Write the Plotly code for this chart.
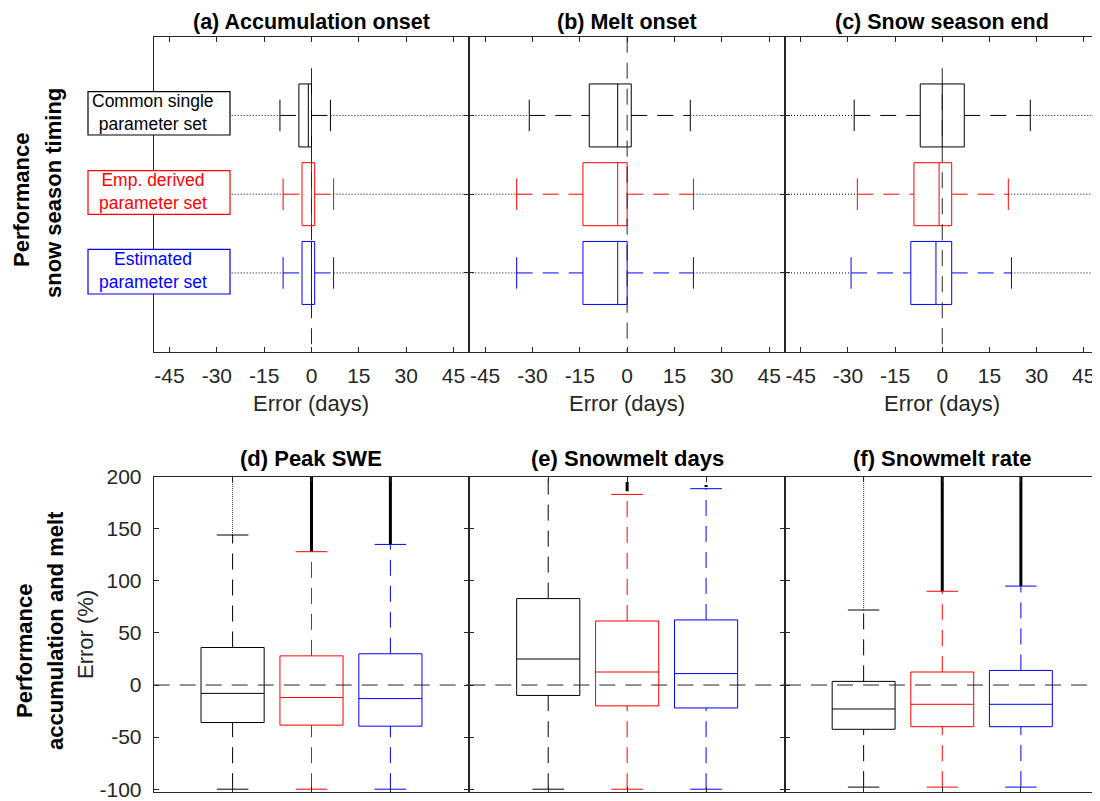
import plotly.graph_objects as go

W, H = 1100, 801

# ------------------------------------------------------------------ data
set_labels = ["Common single<br>parameter set", "Emp. derived<br>parameter set", "Estimated<br>parameter set"]
set_colors = ["#000000", "#ff0000", "#0000ff"]
positions = [1, 2, 3]

# top row: timing errors (days) -> whisker low, Q1, median, Q3, whisker high
timing_titles = ["(a) Accumulation onset", "(b) Melt onset", "(c) Snow season end"]
acc_lo = [-10, -9, -9]
acc_q1 = [-4, -3, -3]
acc_med = [-1, 0, 0]
acc_q3 = [0, 1, 1]
acc_hi = [6, 7, 7]

melt_lo = [-31, -35, -35]
melt_q1 = [-12, -14, -14]
melt_med = [-3, -3, -3]
melt_q3 = [1.3, 0, 0]
melt_hi = [20, 21, 21]

end_lo = [-28, -27, -29]
end_q1 = [-7, -9, -10]
end_med = [0, -1, -2]
end_q3 = [7, 3, 3]
end_hi = [28, 21, 22]

# bottom row: relative errors (%)
rel_titles = ["(d) Peak SWE", "(e) Snowmelt days", "(f) Snowmelt rate"]
swe_lo = [-100, -100, -100]
swe_q1 = [-36, -38.5, -39.5]
swe_med = [-8, -12, -13]
swe_q3 = [36, 28, 30]
swe_hi = [144, 128, 135]
swe_out_lo = [144, 128, 135]
swe_out_hi = [200, 200, 200]

days_lo = [-100, -100, -100]
days_q1 = [-10, -20, -22]
days_med = [25, 12.5, 11]
days_q3 = [83, 61.5, 62.5]
days_hi = [230, 183, 188.5]
days_out_lo = [None, 186, 190]
days_out_hi = [None, 195, 192]

rate_lo = [-98, -98, -98]
rate_q1 = [-42.5, -40, -40]
rate_med = [-23, -18.5, -18.5]
rate_q3 = [3.5, 12.5, 14]
rate_hi = [72, 90, 95]
rate_out_lo = [72, 90, 95]
rate_out_hi = [200, 200, 200]

day_ticks = [-45, -30, -15, 0, 15, 30, 45]
day_ticktext = ["-45", "-30", "-15", "0", "15", "30", "45"]
pct_ticks = [-100, -50, 0, 50, 100, 150, 200]
pct_ticktext = ["-100", "-50", "0", "50", "100", "150", "200"]

timing_panels = [
    (acc_lo, acc_q1, acc_med, acc_q3, acc_hi),
    (melt_lo, melt_q1, melt_med, melt_q3, melt_hi),
    (end_lo, end_q1, end_med, end_q3, end_hi),
]
rel_panels = [
    (swe_lo, swe_q1, swe_med, swe_q3, swe_hi, swe_out_lo, swe_out_hi),
    (days_lo, days_q1, days_med, days_q3, days_hi, days_out_lo, days_out_hi),
    (rate_lo, rate_q1, rate_med, rate_q3, rate_hi, rate_out_lo, rate_out_hi),
]

# ------------------------------------------------------------------ styles
FONT = "Liberation Sans, Arial, sans-serif"
AX = "#262626"
DASH = "16px,10px"
DOT = "1px,2px"
day_range = [-50, 50]
pos_range = [0, 4]
pct_range = [-102.4, 200]
box_w = 0.8
cap_half = 0.2
PAGE_OFF = 8  # default page body margin compensation (px)

def px_x(p):
    return (p - PAGE_OFF) / W

def px_y(p):
    return 1 - (p - PAGE_OFF) / H

panel_x = [(153.7, 469.3), (469.3, 785.0), (785.0, 1099.5)]
top_y = (36.7, 351.7)
bot_y = (476.7, 791.7)

fig = go.Figure()
layout = dict(
    width=W, height=H, margin=dict(l=0, r=0, t=0, b=0, autoexpand=False),
    paper_bgcolor="white", plot_bgcolor="white",
    showlegend=False, boxmode="overlay",
    font=dict(family=FONT, color=AX),
)

def common_axis():
    return dict(showgrid=False, zeroline=False, showline=True, linecolor=AX,
                linewidth=1, ticks="inside", ticklen=5, tickcolor=AX,
                mirror="ticks", tickfont=dict(size=21, family=FONT, color=AX),
                fixedrange=True, automargin=False)

zero_start = [0.4, 0.0, 0.4]

# ---------------- top row
for i in range(3):
    n = i + 1
    xa = "x" if n == 1 else f"x{n}"
    ya = "y" if n == 1 else f"y{n}"
    xd = common_axis()
    xd.update(domain=[px_x(panel_x[i][0]), px_x(panel_x[i][1])], range=day_range,
              tickvals=day_ticks, ticktext=day_ticktext, anchor=ya,
              ticklabelstandoff=5)
    yd = common_axis()
    yd.update(domain=[px_y(top_y[1]), px_y(top_y[0])], range=pos_range[::-1],
              tickvals=positions, showticklabels=False, anchor=xa)
    layout["xaxis" if n == 1 else f"xaxis{n}"] = xd
    layout["yaxis" if n == 1 else f"yaxis{n}"] = yd

    lo, q1, med, q3, hi = timing_panels[i]
    fig.add_trace(go.Scatter(x=[0, 0], y=[zero_start[i], pos_range[1]], mode="lines",
                             line=dict(color=AX, width=1, dash=DASH), xaxis=xa, yaxis=ya,
                             hoverinfo="skip"))
    for k in range(3):
        p = positions[k]
        c = set_colors[k]
        for seg in ([day_range[0], lo[k]], [hi[k], day_range[1]]):
            fig.add_trace(go.Scatter(x=seg, y=[p, p], mode="lines",
                                     line=dict(color="black", width=1, dash=DOT),
                                     xaxis=xa, yaxis=ya, hoverinfo="skip"))
        for seg in ([lo[k], q1[k]], [q3[k], hi[k]]):
            fig.add_trace(go.Scatter(x=seg, y=[p, p], mode="lines",
                                     line=dict(color=c, width=1, dash=DASH),
                                     xaxis=xa, yaxis=ya, hoverinfo="skip"))
        fig.add_trace(go.Scatter(x=[lo[k], lo[k], None, hi[k], hi[k]],
                                 y=[p - cap_half, p + cap_half, None, p - cap_half, p + cap_half],
                                 mode="lines", line=dict(color=c, width=1),
                                 xaxis=xa, yaxis=ya, hoverinfo="skip"))
        fig.add_trace(go.Box(orientation="h", y=[p], q1=[q1[k]], median=[med[k]], q3=[q3[k]],
                             lowerfence=[q1[k]], upperfence=[q3[k]], width=box_w,
                             whiskerwidth=0, boxpoints=False,
                             line=dict(color=c, width=1), fillcolor="rgba(0,0,0,0)",
                             xaxis=xa, yaxis=ya, hoverinfo="skip"))

# ---------------- bottom row
for i in range(3):
    n = i + 4
    xa = f"x{n}"
    ya = f"y{n}"
    xd = common_axis()
    xd.update(domain=[px_x(panel_x[i][0]), px_x(panel_x[i][1])], range=pos_range,
              tickvals=positions, showticklabels=False, anchor=ya)
    yd = common_axis()
    yd.update(domain=[px_y(bot_y[1]), px_y(bot_y[0])], range=pct_range,
              tickvals=pct_ticks, ticktext=pct_ticktext, showticklabels=(i == 0),
              anchor=xa, ticklabelstandoff=7)
    layout[f"xaxis{n}"] = xd
    layout[f"yaxis{n}"] = yd

    lo, q1, med, q3, hi, olo, ohi = rel_panels[i]
    fig.add_trace(go.Scatter(x=pos_range, y=[0, 0], mode="lines",
                             line=dict(color=AX, width=1, dash=DASH), xaxis=xa, yaxis=ya,
                             hoverinfo="skip"))
    for k in range(3):
        p = positions[k]
        c = set_colors[k]
        if olo[k] is not None:
            sparse = (k == 0)
            fig.add_trace(go.Scatter(x=[p, p], y=[olo[k], ohi[k]], mode="lines",
                                     line=dict(color="#333333" if sparse else "black",
                                               width=1 if sparse else 3,
                                               dash="1px,1px" if sparse else "solid"),
                                     xaxis=xa, yaxis=ya, hoverinfo="skip"))
        for seg in ([lo[k], q1[k]], [q3[k], hi[k]]):
            fig.add_trace(go.Scatter(x=[p, p], y=seg, mode="lines",
                                     line=dict(color=c, width=1, dash=DASH),
                                     xaxis=xa, yaxis=ya, hoverinfo="skip"))
        fig.add_trace(go.Scatter(x=[p - cap_half, p + cap_half, None, p - cap_half, p + cap_half],
                                 y=[lo[k], lo[k], None, hi[k], hi[k]],
                                 mode="lines", line=dict(color=c, width=1),
                                 xaxis=xa, yaxis=ya, hoverinfo="skip"))
        fig.add_trace(go.Box(x=[p], q1=[q1[k]], median=[med[k]], q3=[q3[k]],
                             lowerfence=[q1[k]], upperfence=[q3[k]], width=box_w,
                             whiskerwidth=0, boxpoints=False,
                             line=dict(color=c, width=1), fillcolor="rgba(0,0,0,0)",
                             xaxis=xa, yaxis=ya, hoverinfo="skip"))

fig.update_layout(**layout)

ann = []
for i in range(3):
    cx = px_x((panel_x[i][0] + panel_x[i][1]) / 2)
    ann.append(dict(text=f"<b>{timing_titles[i]}</b>", x=cx, y=1.0, xref="paper", yref="paper",
                    showarrow=False, xanchor="center", yanchor="top",
                    font=dict(size=21.5, family=FONT, color="black")))
    ann.append(dict(text=f"<b>{rel_titles[i]}</b>", x=cx, y=px_y(458), xref="paper", yref="paper",
                    showarrow=False, xanchor="center", yanchor="middle",
                    font=dict(size=22, family=FONT, color="black")))
    ann.append(dict(text="Error (days)", x=cx, y=px_y(403), xref="paper", yref="paper",
                    showarrow=False, xanchor="center", yanchor="middle",
                    font=dict(size=22, family=FONT, color=AX)))

for txt, x, y, bold in [("Performance", 21, 200, True), ("snow season timing", 53, 193, True),
                        ("Performance", 24, 651, True), ("accumulation and melt", 55, 631, True),
                        ("Error (%)", 85, 635, False)]:
    ann.append(dict(text=f"<b>{txt}</b>" if bold else txt, x=px_x(x), y=px_y(y),
                    xref="paper", yref="paper", showarrow=False, textangle=-90,
                    xanchor="center", yanchor="middle",
                    font=dict(size=22, family=FONT, color="black" if bold else AX)))

box_rows = [(91.7, 135.0), (170.7, 214.3), (249.3, 294.0)]
shapes = []
for k in range(3):
    y0, y1 = box_rows[k]
    shapes.append(dict(type="rect", xref="paper", yref="paper",
                       x0=px_x(88), x1=px_x(230), y0=px_y(y1), y1=px_y(y0),
                       line=dict(color=set_colors[k], width=1.2), fillcolor="white",
                       layer="above"))
    ann.append(dict(text=set_labels[k], x=px_x(153), y=px_y((y0 + y1) / 2 - 1),
                    xref="paper", yref="paper", showarrow=False, align="center",
                    xanchor="center", yanchor="middle",
                    font=dict(size=17.5, family=FONT, color=set_colors[k])))

fig.update_layout(annotations=ann, shapes=shapes)
fig.write_html("out.html")
